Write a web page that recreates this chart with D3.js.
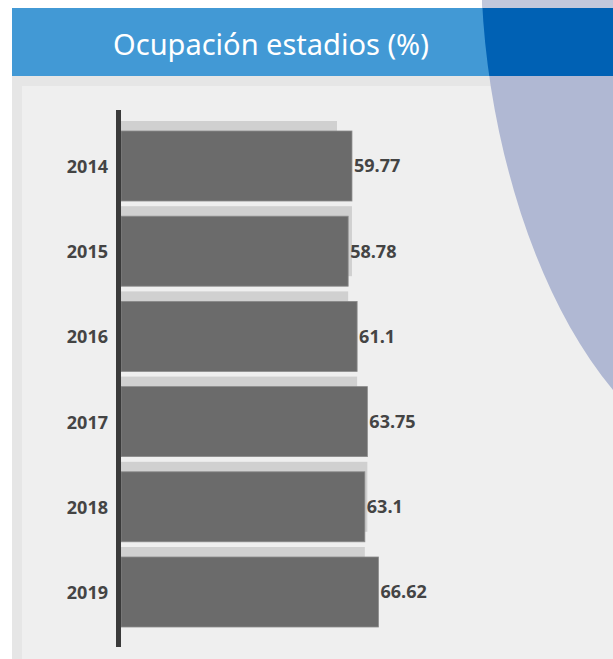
<!DOCTYPE html>
<html lang="es">
<head>
<meta charset="UTF-8">
<title>Ocupación estadios</title>
<style>
  body { margin: 0; background: #fff; }
  svg { display: block; }
</style>
</head>
<body>
<svg id="chart" width="613" height="659"></svg>
<script src="https://d3js.org/d3.v7.min.js"></script>
<script>
// data
var years = ["2014", "2015", "2016", "2017", "2018", "2019"];
var values = [59.77, 58.78, 61.1, 63.75, 63.1, 66.62];
var prevValues = [55.9, 59.77, 58.78, 61.1, 63.75, 63.1]; // light bar = year before

var W = 613, H = 659;
var svg = d3.select("#chart");

// background panel
svg.append("rect").attr("x", 12).attr("y", 76).attr("width", W - 12).attr("height", H - 76).attr("fill", "#e6e6e6");
svg.append("rect").attr("x", 22).attr("y", 86).attr("width", W - 22).attr("height", H - 86).attr("fill", "#efefef");

// big decorative curve on the right
var p = d3.path();
p.moveTo(481, -20);
p.lineTo(482, 0);
p.bezierCurveTo(488, 130, 530, 290, 613, 390);
p.lineTo(640, 422);
p.lineTo(700, 422);
p.lineTo(700, -20);
p.closePath();
var shapePath = p.toString();

svg.append("clipPath").attr("id", "blob").append("path").attr("d", shapePath);

svg.append("path").attr("d", shapePath).attr("fill", "#b0b8d3");
svg.append("rect").attr("x", 0).attr("y", 0).attr("width", W).attr("height", 8)
    .attr("fill", "#c1c8dc").attr("clip-path", "url(#blob)");

// title bar
svg.append("rect").attr("x", 12).attr("y", 8).attr("width", W - 12).attr("height", 68).attr("fill", "#4299d5");
svg.append("rect").attr("x", 12).attr("y", 8).attr("width", W - 12).attr("height", 68)
    .attr("fill", "#0061b4").attr("clip-path", "url(#blob)");

svg.append("text")
    .attr("x", 271).attr("y", 55)
    .attr("text-anchor", "middle")
    .attr("fill", "#fff")
    .style("font-family", "'Noto Sans', sans-serif")
    .style("font-size", "29px")
    .text("Ocupación estadios (%)");
svg.append("text")
    .attr("x", 271).attr("y", 55)
    .attr("text-anchor", "middle")
    .attr("fill", "#c8cde0")
    .attr("clip-path", "url(#blob)")
    .style("font-family", "'Noto Sans', sans-serif")
    .style("font-size", "29px")
    .text("Ocupación estadios (%)");

// scales
var x = d3.scaleLinear().domain([0, 70]).range([121, 391.5]);
var y = d3.scalePoint().domain(years).range([166, 592]);
var barH = 70;

var rows = years.map(function(d, i) {
  return { year: d, value: values[i], prev: prevValues[i] };
});

// previous-year bars (behind)
svg.selectAll(".prev")
  .data(rows)
  .enter().append("rect")
    .attr("class", "prev")
    .attr("x", x(0))
    .attr("y", function(d) { return y(d.year) - barH / 2 - 10; })
    .attr("width", function(d) { return x(d.prev) - x(0); })
    .attr("height", barH)
    .attr("fill", "#d0d0d0");

// current bars
svg.selectAll(".bar")
  .data(rows)
  .enter().append("rect")
    .attr("class", "bar")
    .attr("x", x(0))
    .attr("y", function(d) { return y(d.year) - barH / 2; })
    .attr("width", function(d) { return x(d.value) - x(0); })
    .attr("height", barH)
    .attr("fill", "#6b6b6b")
    .attr("stroke", "#8a8a8a")
    .attr("stroke-width", 0.8);

// value labels
svg.selectAll(".val")
  .data(rows)
  .enter().append("text")
    .attr("class", "val")
    .attr("x", function(d) { return x(d.value) + 2; })
    .attr("y", function(d) { return y(d.year); })
    .attr("dy", "0.36em")
    .attr("fill", "#444")
    .style("font-family", "'Open Sans', sans-serif")
    .style("font-weight", "bold")
    .style("font-size", "18px")
    .text(function(d) { return d.value; });

// y axis
var yAxis = svg.append("g")
    .attr("transform", "translate(108,0)")
    .call(d3.axisLeft(y).tickSize(0).tickPadding(0));
yAxis.select(".domain").remove();
yAxis.selectAll("text")
    .attr("fill", "#444")
    .attr("dy", "0.36em")
    .style("font-family", "'Open Sans', sans-serif")
    .style("font-weight", "bold")
    .style("font-size", "18px");

// axis line
svg.append("rect").attr("x", 116).attr("y", 110).attr("width", 5).attr("height", 537).attr("fill", "#3a3a3a");
</script>
</body>
</html>
